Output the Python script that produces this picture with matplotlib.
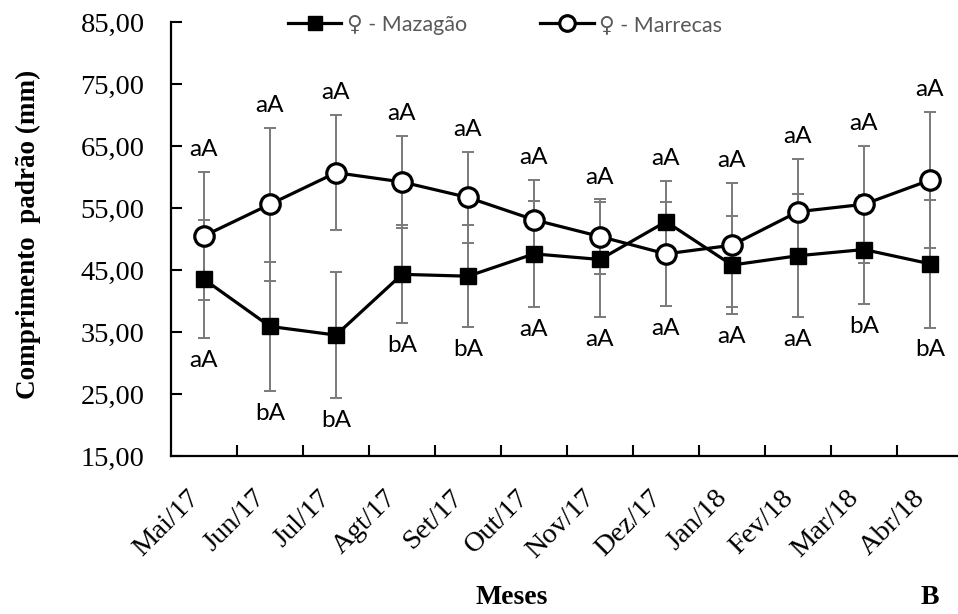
import matplotlib
matplotlib.use('Agg')
import matplotlib.pyplot as plt
from matplotlib.ticker import FuncFormatter, FixedLocator

months = ['Mai/17', 'Jun/17', 'Jul/17', 'Agt/17', 'Set/17', 'Out/17',
          'Nov/17', 'Dez/17', 'Jan/18', 'Fev/18', 'Mar/18', 'Abr/18']
mazagao = [43.5, 35.9, 34.5, 44.3, 44.0, 47.6, 46.7, 52.8, 45.8, 47.3, 48.3, 46.0]
mazagao_err = [9.5, 10.4, 10.2, 7.9, 8.2, 8.6, 9.3, 6.6, 7.9, 9.9, 8.8, 10.3]
marrecas = [50.5, 55.6, 60.7, 59.2, 56.7, 53.1, 50.4, 47.6, 49.0, 54.4, 55.6, 59.5]
marrecas_err = [10.3, 12.3, 9.3, 7.4, 7.3, 6.4, 6.0, 8.4, 10.0, 8.5, 9.4, 11.0]
mazagao_letters = ['aA', 'bA', 'bA', 'bA', 'bA', 'aA', 'aA', 'aA', 'aA', 'aA', 'bA', 'bA']
marrecas_letters = ['aA'] * 12
yticks = [15, 25, 35, 45, 55, 65, 75, 85]
series_names = ['\u2640 - Mazag\u00e3o', '\u2640 - Marrecas']

W, H = 958, 614
fig = plt.figure(figsize=(W / 100, H / 100), dpi=100)
ax = fig.add_axes([171 / W, 1 - 456 / H, (963 - 171) / W, (456 - 22) / H])

x = list(range(len(months)))
serif = 'Liberation Serif'
sans = ['Lato', 'DejaVu Sans']

ax.errorbar(x, mazagao, yerr=mazagao_err, fmt='none', ecolor='#7a7a7a',
            elinewidth=1.4, capsize=4, capthick=1.4, zorder=2)
ax.errorbar(x, marrecas, yerr=marrecas_err, fmt='none', ecolor='#7a7a7a',
            elinewidth=1.4, capsize=4, capthick=1.4, zorder=2)
l1, = ax.plot(x, mazagao, '-', marker='s', color='black', lw=2.3, ms=12,
              mfc='black', mec='black', zorder=3, label=series_names[0])
l2, = ax.plot(x, marrecas, '-', marker='o', color='black', lw=2.3, ms=14,
              mfc='white', mec='black', mew=2.3, zorder=4, label=series_names[1])

for i in x:
    top = max(marrecas[i] + marrecas_err[i], mazagao[i] + mazagao_err[i])
    bot = min(marrecas[i] - marrecas_err[i], mazagao[i] - mazagao_err[i])
    ax.annotate(marrecas_letters[i], (i, top), xytext=(0, 16), textcoords='offset points',
                ha='center', va='center', fontsize=17.5, family=sans, color='black')
    ax.annotate(mazagao_letters[i], (i, bot), xytext=(0, -16), textcoords='offset points',
                ha='center', va='center', fontsize=17.5, family=sans, color='black')

ax.set_xlim(-0.5, len(months) - 0.5)
ax.set_ylim(15, 85)
ax.set_yticks(yticks)
ax.yaxis.set_major_formatter(FuncFormatter(lambda v, p: f"{v:.2f}".replace('.', ',')))
ax.set_xticks(x)
ax.set_xticklabels(months, rotation=45, ha='right', va='top')
ax.xaxis.set_minor_locator(FixedLocator([i + 0.5 for i in x]))

for s in ['top', 'right']:
    ax.spines[s].set_visible(False)
for s in ['left', 'bottom']:
    ax.spines[s].set_linewidth(1.6)

ax.tick_params(axis='y', direction='in', length=8, width=1.5, pad=19)
ax.tick_params(axis='x', which='major', length=0, pad=21)
ax.tick_params(axis='x', which='minor', direction='in', length=8, width=1.5)
for lab in ax.get_yticklabels() + ax.get_xticklabels():
    lab.set_fontfamily(serif)
    lab.set_fontsize(20.5)

fig.text(28 / W, 1 - 234 / H, 'Comprimento  padr\u00e3o (mm)', rotation=90,
         ha='center', va='center', fontsize=19.5, fontweight='bold', family=serif)
fig.text(512 / W, 1 - 597 / H, 'Meses', ha='center', va='center',
         fontsize=20, fontweight='bold', family=serif)
fig.text(930 / W, 1 - 597 / H, 'B', ha='center', va='center',
         fontsize=20, fontweight='bold', family=serif)

leg = fig.legend([l1, l2], series_names, loc='center', bbox_to_anchor=(505 / W, 1 - 25 / H),
                 ncol=2, frameon=False, handlelength=2.5, handletextpad=0.25,
                 columnspacing=3.4, markerscale=0.8,
                 prop={'family': sans, 'size': 15.5})
for t in leg.get_texts():
    t.set_color('#595959')

fig.savefig('out.png', dpi=100)
